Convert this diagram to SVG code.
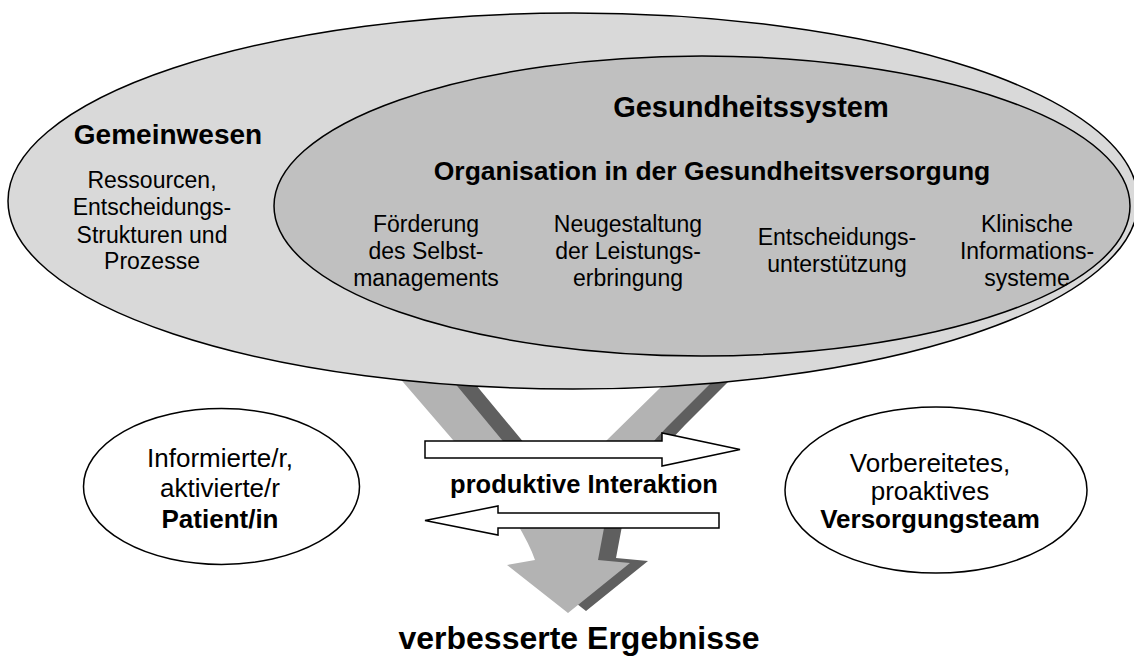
<svg xmlns="http://www.w3.org/2000/svg" width="1134" height="657" viewBox="0 0 1134 657">
<defs>
<style>
text{font-family:"Liberation Sans",Arial,Helvetica,sans-serif;fill:#000;text-anchor:middle}
.b{font-weight:bold}
.r{font-size:23px}
.p{font-size:26px}
.ol{stroke:#000;stroke-width:1.5}
</style>
<path id="flow" d="M384,360 L403,382 L453,440 L515,520 Q530,545 535,560 L507,565 L568,613 L630,563 L598,560 L604,528 Q615,480 667,427 L734,360 L688,360 L660,388 L607,440 L549,497 L502,440 L458,387 L436,360 Z"/>
</defs>
<rect width="1134" height="657" fill="#fff"/>
<g id="flow-arrow">
<use href="#flow" transform="translate(18,-2)" fill="#5f5f5f"/>
<use href="#flow" fill="#b3b3b3"/>
</g>
<g id="gemeinwesen">
<ellipse class="ol" cx="573" cy="201" rx="565" ry="188" fill="#d9d9d9"/>
<text class="b" x="168" y="144" font-size="28">Gemeinwesen</text>
<text class="r" x="152" y="188">Ressourcen,</text>
<text class="r" x="152" y="215">Entscheidungs-</text>
<text class="r" x="152" y="243">Strukturen und</text>
<text class="r" x="152" y="269">Prozesse</text>
</g>
<g id="gesundheitssystem">
<ellipse class="ol" cx="702" cy="206" rx="428" ry="150" fill="#c0c0c0"/>
<text class="b" x="751" y="117" font-size="29">Gesundheitssystem</text>
<text class="b" x="712" y="180" font-size="26.5">Organisation in der Gesundheitsversorgung</text>
</g>
<g id="selbstmanagement">
<text class="r" x="426" y="232">Förderung</text>
<text class="r" x="426" y="259">des Selbst-</text>
<text class="r" x="426" y="286">managements</text>
</g>
<g id="leistungserbringung">
<text class="r" x="628" y="232">Neugestaltung</text>
<text class="r" x="628" y="259">der Leistungs-</text>
<text class="r" x="628" y="286">erbringung</text>
</g>
<g id="entscheidung">
<text class="r" x="837" y="245">Entscheidungs-</text>
<text class="r" x="837" y="272">unterstützung</text>
</g>
<g id="informationssysteme">
<text class="r" x="1027" y="232">Klinische</text>
<text class="r" x="1027" y="259">Informations-</text>
<text class="r" x="1027" y="286">systeme</text>
</g>
<g id="patient">
<ellipse class="ol" cx="221.5" cy="486.5" rx="138" ry="78" fill="#fff"/>
<text class="p" x="220" y="467">Informierte/r,</text>
<text class="p" x="220" y="497">aktivierte/r</text>
<text class="p b" x="220" y="528">Patient/in</text>
</g>
<g id="versorgungsteam">
<ellipse class="ol" cx="936" cy="490" rx="151" ry="83" fill="#fff"/>
<text class="p" x="930" y="472">Vorbereitetes,</text>
<text class="p" x="930" y="500">proaktives</text>
<text class="p b" x="930" y="528">Versorgungsteam</text>
</g>
<g id="interaktion">
<rect x="430" y="455" width="305" height="62" fill="#fff"/>
<polygon class="ol" fill="#fff" points="425,441 662,441 662,433 740,449.5 662,466 662,458 425,458"/>
<polygon class="ol" fill="#fff" points="719,513 498,513 498,506 425,520.5 498,535 498,528 719,528"/>
<text class="b" x="584" y="493" font-size="25.5">produktive Interaktion</text>
</g>
<g id="ergebnisse">
<text class="b" x="579" y="649" font-size="32">verbesserte Ergebnisse</text>
</g>
</svg>
